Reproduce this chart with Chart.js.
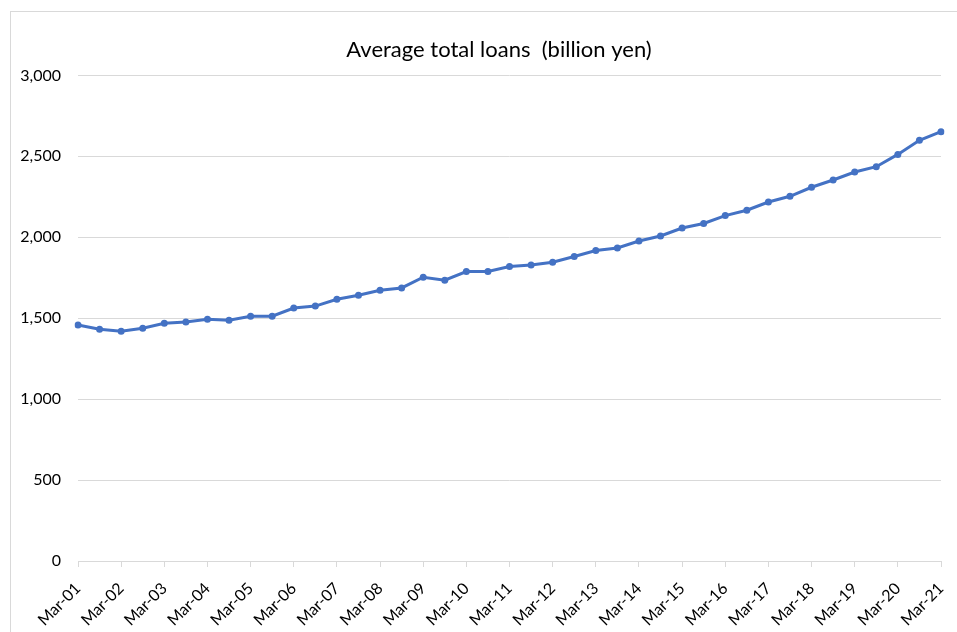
<!DOCTYPE html>
<html><head><meta charset="utf-8">
<script src="https://cdn.jsdelivr.net/npm/chart.js@4.4.1/dist/chart.umd.min.js"></script>
<style>
html,body{margin:0;padding:0;background:#fff;overflow:hidden;width:957px;height:632px;}
#frame{position:absolute;left:10px;top:11px;width:976px;height:640px;border:1px solid #d9d9d9;}
canvas{display:block;}
</style></head><body>
<div id="frame"><canvas id="c" width="976" height="640"></canvas></div>
<script>
const years = ['01','02','03','04','05','06','07','08','09','10','11','12','13','14','15','16','17','18','19','20','21'];
const categories = [];
years.forEach((y, i) => { categories.push('Mar-' + y); if (i < years.length - 1) categories.push('Sep-' + y); });
const loans = [1458,1432,1420,1438,1469,1476,1494,1488,1512,1512,1563,1575,1617,1642,1673,1687,1753,1735,1788,1788,
  1819,1829,1846,1881,1918,1934,1977,2008,2057,2085,2134,2167,2218,2253,2309,2354,2403,2436,2512,2599,2652];
const yTicks = [0,500,1000,1500,2000,2500,3000];
const titleText = 'Average total loans  (billion yen)';
const FONT = 'Lato, "Open Sans", sans-serif';

new Chart(document.getElementById('c'), {
  type: 'line',
  data: { labels: categories, datasets: [{
    data: loans, borderColor: '#4472C4', backgroundColor: '#4472C4', borderWidth: 3,
    pointRadius: 3.5, pointHoverRadius: 3.5, pointBackgroundColor: '#4472C4', pointBorderWidth: 0, tension: 0,
    yAxisID: 'y'
  }]},
  options: {
    responsive: false, animation: false, devicePixelRatio: 1,
    layout: { padding: 0 },
    plugins: {
      legend: { display: false }, tooltip: { enabled: false },
      title: { display: true, text: titleText, color: '#000', font: { family: FONT, size: 22, weight: 'normal', lineHeight: 1.2 }, padding: { top: 25, bottom: 12 } }
    },
    scales: {
      x: {
        offset: false,
        grid: { drawOnChartArea: false, drawTicks: true, tickLength: 6,
          color: ctx => (ctx.index % 2 === 0 ? '#d9d9d9' : 'rgba(0,0,0,0)') },
        border: { color: '#d9d9d9' },
        ticks: { autoSkip: false, maxRotation: 45, minRotation: 45, padding: 12, color: '#000',
          font: { family: FONT, size: 16 },
          callback: function(v, i) { return i % 2 === 0 ? categories[i] : ''; } },
        afterFit: s => { s.height = 91; }
      },
      y: {
        min: 0, max: 3000,
        afterBuildTicks: s => { s.ticks = yTicks.map(v => ({ value: v })); },
        grid: { color: '#d9d9d9', drawTicks: false },
        border: { display: false },
        ticks: { padding: 17, color: '#000', font: { family: FONT, size: 16 },
          callback: v => v.toLocaleString('en-US') },
        afterFit: s => { s.width = 67; }
      },
      spacer: {
        type: 'linear', position: 'right', display: true,
        grid: { display: false, drawOnChartArea: false }, border: { display: false },
        ticks: { display: false },
        afterFit: s => { s.width = 46; }
      }
    }
  }
});
</script>
</body></html>
